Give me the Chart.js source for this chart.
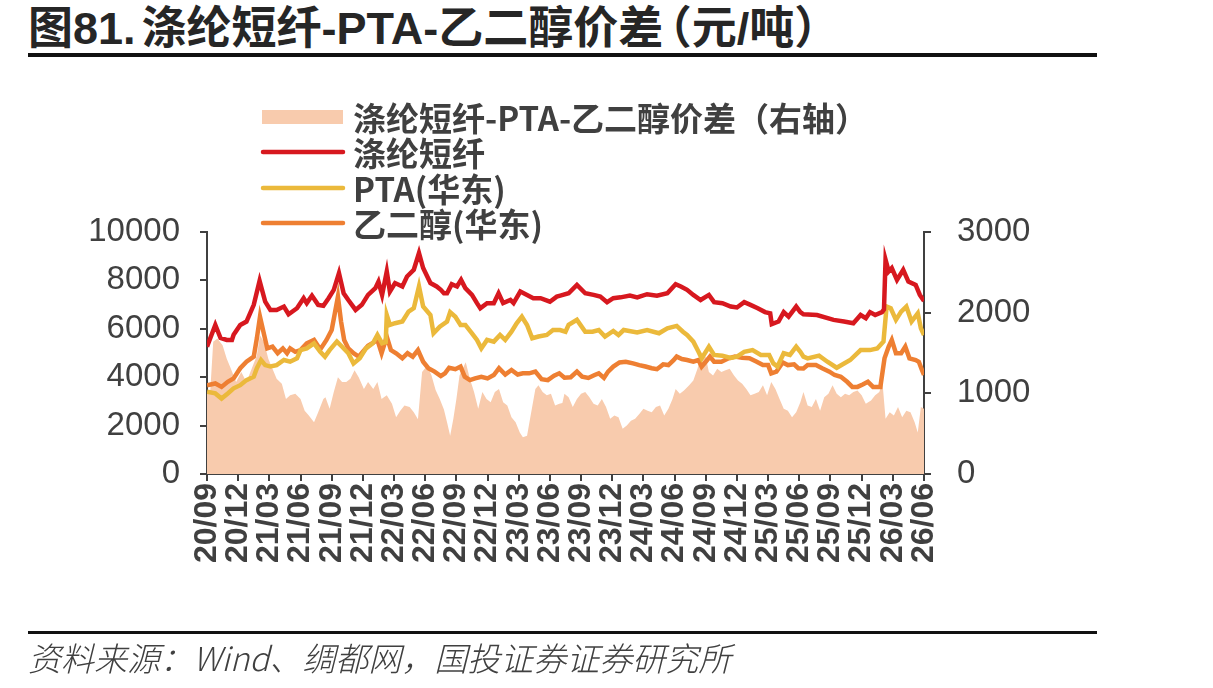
<!DOCTYPE html>
<html>
<head>
<meta charset="utf-8">
<script src="https://cdn.jsdelivr.net/npm/chart.js@4.4.1/dist/chart.umd.min.js"></script>
<style>
  body { margin: 0; background: #fff; }
  #wrap { position: relative; width: 1213px; height: 688px; overflow: hidden; }
  #chart { position: absolute; left: 0; top: 0; }
  .title {
    position: absolute; left: 28px; top: 4px;
    font-family: "Liberation Sans", "Noto Sans CJK SC", sans-serif;
    font-weight: bold; font-size: 45px; line-height: 50px; color: #262626;
    white-space: nowrap;
    font-feature-settings: "halt";
  }
  .title .gap { margin-left: 6px; }
  .rule { position: absolute; left: 28px; width: 1069px; height: 4px; background: #111; }
  .source {
    position: absolute; left: 28px; top: 637px;
    font-family: "Noto Sans CJK SC", sans-serif; font-style: italic; font-weight: 300;
    font-size: 33px; line-height: 40px; color: #404040; white-space: nowrap;
  }
</style>
</head>
<body>
<div id="wrap">
  <div class="title">图81.<span class="gap">涤纶短纤-PTA-乙二醇价差</span><span class="gap">（元/吨）</span></div>
  <div class="rule" style="top:53px"></div>
  <canvas id="chart" width="1213" height="688"></canvas>
  <div class="rule" style="top:631px; height:3px"></div>
  <div class="source">资料来源：Wind、绸都网，国投证券证券研究所</div>
</div>
<script>

// x axis labels, one every 3 months (x value = months since 2020/09)
const tickLabels = ['20/09','20/12','21/03','21/06','21/09','21/12','22/03','22/06','22/09','22/12',
  '23/03','23/06','23/09','23/12','24/03','24/06','24/09','24/12','25/03','25/06','25/09','25/12','26/03','26/06']

const seriesNames = ['涤纶短纤-PTA-乙二醇价差（右轴）', '涤纶短纤', 'PTA(华东)', '乙二醇(华东)']

// 涤纶短纤
const psfX = [0,0.8,1.3,1.9,2.4,2.56,3.2,3.8,4.5,5.06,5.6,6.1,6.7,7.4,7.85,8.66,9.3,9.6,10.1,10.7,11.2,11.7,12.2,12.7,13.15,13.6,14.3,14.9,15.5,16.2,16.5,16.85,17.3,17.6,18.1,18.8,19.25,19.9,20.4,20.8,21.5,22.1,22.5,22.8,23.1,23.55,24.06,24.45,24.86,25.5,25.98,26.3,26.95,27.6,28.06,28.5,29.2,29.5,30.15,30.8,31.4,32.1,33.0,33.66,34.0,34.8,35.6,36.4,37.2,37.85,38.5,39.1,39.8,40.7,41.4,42.35,43.3,44.3,45.1,45.6,46.2,46.8,47.5,48.3,48.8,49.6,50.4,51.0,51.7,52.3,53.0,53.7,54.2,54.35,55.0,55.5,55.97,56.7,57.1,57.4,58.7,60.3,61.3,62.2,62.9,63.4,63.8,64.3,64.96,65.15,65.3,65.6,65.9,66.4,67.0,67.5,68.2,68.6,69]
const psfY = [5260,6160,5620,5540,5540,5750,6160,6300,6990,7980,7120,6780,6780,6920,6600,6850,7265,7060,7370,6990,6950,7265,7610,8300,7470,7190,6780,6990,7400,7680,7950,7400,8370,7540,7890,7750,8160,8440,9130,8510,7890,7750,7610,7470,7470,7845,7750,8020,7680,7400,7060,6850,7060,7060,7470,7060,7190,7060,7540,7400,7265,7265,7120,7330,7370,7470,7815,7470,7400,7330,7100,7265,7300,7370,7300,7430,7370,7470,7845,7750,7610,7400,7190,7400,7100,7060,6920,6880,7100,6990,6850,6690,6640,6190,6300,6690,6500,6920,6690,6600,6570,6370,6300,6230,6570,6440,6690,6570,6690,6800,8850,8370,8510,8020,8440,7950,7815,7400,7150]

// PTA(华东)
const ptaX = [0,0.8,1.4,2.0,2.56,3.2,3.8,4.5,4.8,5.2,5.6,6.1,6.7,7.4,8.0,8.66,9.0,9.6,10.3,10.9,11.35,11.8,12.5,13.0,13.6,14.1,14.7,15.3,15.96,16.4,16.85,17.2,17.3,17.6,18.1,18.8,19.4,19.9,20.4,20.8,21.5,21.8,22.4,23.1,23.4,23.9,24.4,24.86,25.5,25.98,26.4,26.95,27.6,28.2,28.7,29.3,29.8,30.3,30.8,31.3,31.9,32.7,33.3,33.97,34.5,34.8,35.6,36.4,37.1,37.7,38.3,39.1,39.6,40.1,41.4,42.35,43.5,44.3,45.2,45.8,46.2,46.8,47.3,47.6,48.3,48.8,49.6,50.4,51.0,51.7,52.5,53.3,54.1,54.5,54.9,55.5,56.1,56.7,57.1,57.4,57.8,58.9,59.7,60.6,61.9,62.9,63.8,64.5,65.1,65.4,65.8,66.3,66.8,67.3,67.8,68.4,68.7,69]
const ptaY = [3400,3330,3120,3330,3540,3670,3880,4020,4370,4710,4500,4440,4500,4710,4640,4780,5120,5190,5400,5050,4850,5120,5470,5260,4990,4570,4780,5190,5400,5745,5400,5450,6570,6160,6230,6300,6710,6850,7750,6920,6570,5815,6090,6300,6690,6500,6160,6160,5815,5540,5190,5540,5470,5745,5540,5880,6230,6500,6160,5610,5680,5745,5950,5950,5880,6160,6370,5880,5880,5950,5680,5910,5745,5950,5850,5950,5815,6020,6120,5880,5745,5470,5050,4780,5260,4920,4890,4800,4850,5050,5120,4920,4920,4570,4440,4990,4920,5260,5050,4850,4780,4890,4640,4390,4710,5120,5120,5190,5470,6920,6850,6370,6710,6920,6300,6640,6020,5745]

// 乙二醇(华东)
const megX = [0,0.8,1.4,2.0,2.56,3.2,3.8,4.5,4.8,5.1,5.5,5.8,6.3,6.8,7.3,7.7,8.0,8.5,9.0,9.6,10.3,10.9,11.5,12.0,12.3,12.6,12.9,13.2,13.6,14.1,14.6,15.0,15.5,16.0,16.4,16.8,17.3,17.7,18.2,18.8,19.3,19.8,20.3,20.8,21.3,21.9,22.5,22.9,23.3,23.9,24.4,24.8,25.3,25.8,26.4,27.0,27.6,28.1,28.7,29.3,29.9,30.4,31.0,31.6,32.2,32.8,33.4,33.9,34.4,35.0,35.6,36.1,36.7,37.3,37.7,38.2,38.6,39.1,39.7,40.3,41.0,41.6,42.2,42.8,43.3,43.9,44.4,44.9,45.2,45.7,46.2,46.8,47.3,47.6,48.0,48.4,48.8,49.5,50.2,50.8,51.5,52.2,52.9,53.5,54.0,54.3,54.8,55.4,55.9,56.5,56.9,57.4,57.8,58.6,59.2,59.9,60.4,61.0,61.6,62.1,62.6,63.1,63.6,64.1,64.8,65.2,65.6,65.9,66.3,66.8,67.2,67.6,68.2,68.5,68.8,69]
const megY = [3670,3740,3600,3810,3950,4370,4640,4850,5610,6500,5745,5190,5260,4990,5190,4990,5190,5050,5120,5400,5540,5150,5540,5950,6640,7330,6300,5540,5190,4990,4850,5050,5300,5430,5540,4990,5680,5120,4990,4780,4990,4850,5120,4640,4370,4230,4050,4160,4390,4330,4440,4020,3880,3950,4020,3950,4090,4370,4110,4300,4110,4160,4160,4230,3920,3880,4060,4160,3980,4000,4230,4020,3970,4090,4160,3970,4230,4440,4610,4640,4570,4500,4440,4370,4330,4530,4500,4700,4850,4750,4710,4640,4710,4440,4640,4850,4640,4640,4780,4850,4800,4780,4640,4500,4500,4160,4230,4610,4500,4530,4370,4360,4500,4500,4370,4230,4090,4020,3810,3600,3600,3700,3810,3600,3600,4780,5260,5540,4990,4990,5260,4780,4710,4640,4300,4090]

// 价差（右轴）
const spreadX = [0,0.3,0.6,1.0,1.5,1.9,2.3,2.8,3.3,3.8,4.3,4.8,5.1,5.5,5.9,6.3,6.7,7.2,7.6,8.0,8.5,9.0,9.4,9.8,10.3,10.7,11.2,11.4,11.8,12.2,12.6,13.0,13.4,13.8,14.2,14.6,15.1,15.5,16.0,16.4,16.8,17.3,17.8,18.2,18.6,19.0,19.5,19.9,20.3,20.7,21.2,21.6,22.0,22.4,22.8,23.1,23.4,23.7,24.0,24.3,24.6,24.9,25.3,25.7,26.1,26.5,26.9,27.3,27.7,28.1,28.5,28.9,29.3,29.7,30.1,30.4,30.8,31.2,31.6,31.9,32.3,32.7,33.1,33.5,33.9,34.2,34.4,34.8,35.2,35.6,36.0,36.4,36.8,37.2,37.6,38.0,38.4,38.8,39.2,39.6,40.0,40.4,40.8,41.2,41.6,42.0,42.4,42.8,43.2,43.6,44.0,44.4,44.8,45.1,45.5,45.9,46.4,46.8,47.2,47.6,48.0,48.3,48.7,49.1,49.5,49.9,50.3,50.7,51.1,51.5,51.9,52.3,52.7,53.1,53.5,53.9,54.3,54.7,55.1,55.5,55.9,56.3,56.7,57.1,57.4,57.8,58.2,58.6,59.0,59.4,59.8,60.2,60.6,61.0,61.4,61.8,62.2,62.6,63.0,63.4,63.9,64.3,64.7,65.0,65.3,65.7,66.1,66.5,66.9,67.3,67.7,68.1,68.4,68.7,69]
const spreadY = [1000,1000,1640,1680,1595,1430,1305,1140,1265,1140,1305,1470,1720,1630,1430,1305,1180,1120,930,975,995,930,785,725,640,765,930,950,810,1015,1200,1140,1140,1180,1285,1200,1055,1140,1055,1140,930,975,870,705,785,850,830,765,680,1265,1345,1225,1040,930,800,640,475,680,930,1220,1305,1385,1180,1015,810,1015,930,890,1015,1055,890,850,705,640,515,455,475,765,1055,1100,1015,975,995,850,870,880,995,950,830,930,995,1015,950,870,850,930,830,685,725,705,560,600,660,685,745,810,785,765,830,850,725,810,930,1055,995,1035,1100,1160,1305,1510,1450,1265,1220,1305,1265,1285,1305,1225,1160,1120,1055,975,995,1015,1100,975,1140,1055,930,810,785,705,765,890,1015,850,830,930,785,950,995,1100,995,950,995,975,1015,1035,975,870,910,975,1015,1140,685,765,725,830,705,785,765,640,515,830,810]

function pts(xs, ys){
  return xs.map((x, i) => ({ x: x, y: ys[i] }))
}

const axisColor = '#404040'

// legend drawn as a vertical list above the plot
const sideLegend = {
  id: 'sideLegend',
  afterDraw(chart){
    const ctx = chart.ctx
    const rows = [117, 152, 188, 223]
    ctx.save()
    chart.data.datasets.forEach((ds, i) => {
      const y = rows[i]
      if(ds.fill){
        ctx.fillStyle = ds.backgroundColor
        ctx.fillRect(262, y - 7, 81, 14)
      }
      else{
        ctx.strokeStyle = ds.borderColor
        ctx.lineWidth = 4.5
        ctx.lineCap = 'round'
        ctx.beginPath()
        ctx.moveTo(263, y)
        ctx.lineTo(343, y)
        ctx.stroke()
      }
      ctx.fillStyle = axisColor
      ctx.font = 'bold 33px "Noto Sans CJK SC"'
      ctx.textBaseline = 'middle'
      ctx.fillText(ds.label, 353, y + 1)
    })
    ctx.restore()
  }
}

const ctx = document.getElementById('chart')

new Chart(ctx, {
  type: 'line',
  data: {
    datasets: [
      {
        label: seriesNames[0],
        data: pts(spreadX, spreadY),
        yAxisID: 'y1',
        fill: 'origin',
        backgroundColor: '#F8CBAD',
        borderWidth: 0,
        pointRadius: 0,
        order: 4
      },
      {
        label: seriesNames[1],
        data: pts(psfX, psfY),
        yAxisID: 'y',
        fill: false,
        borderColor: '#D7181F',
        borderWidth: 4.5,
        pointRadius: 0,
        order: 1
      },
      {
        label: seriesNames[2],
        data: pts(ptaX, ptaY),
        yAxisID: 'y',
        fill: false,
        borderColor: '#EBB93B',
        borderWidth: 4.5,
        pointRadius: 0,
        order: 2
      },
      {
        label: seriesNames[3],
        data: pts(megX, megY),
        yAxisID: 'y',
        fill: false,
        borderColor: '#EE7F32',
        borderWidth: 4.5,
        pointRadius: 0,
        order: 3
      }
    ]
  },
  options: {
    responsive: false,
    animation: false,
    layout: { padding: { top: 232, left: 0, right: 0, bottom: 0 } },
    plugins: {
      legend: { display: false },
      tooltip: { enabled: false }
    },
    scales: {
      x: {
        type: 'linear',
        min: 0,
        max: 69,
        afterFit: function(s){ s.height = 214 },
        border: { color: axisColor, width: 2 },
        grid: { drawOnChartArea: false, drawTicks: true, tickLength: 7, color: axisColor, lineWidth: 2 },
        ticks: {
          stepSize: 3,
          autoSkip: false,
          minRotation: 90,
          maxRotation: 90,
          padding: 2,
          color: axisColor,
          font: { family: 'Liberation Sans', size: 32, weight: 'bold' },
          callback: function(value){ return tickLabels[Math.round(value / 3)] }
        }
      },
      y: {
        position: 'left',
        min: 0,
        max: 10000,
        afterFit: function(s){ s.width = 207 },
        border: { color: axisColor, width: 2 },
        grid: { drawOnChartArea: false, tickLength: 7, color: axisColor, lineWidth: 2 },
        ticks: {
          stepSize: 2000,
          padding: 20,
          color: axisColor,
          font: { family: 'Liberation Sans', size: 33 },
          callback: function(value){ return String(value) }
        }
      },
      y1: {
        position: 'right',
        min: 0,
        max: 3000,
        afterFit: function(s){ s.width = 289 },
        border: { color: axisColor, width: 2 },
        grid: { drawOnChartArea: false, tickLength: 7, color: axisColor, lineWidth: 2 },
        ticks: {
          stepSize: 1000,
          padding: 26,
          color: axisColor,
          font: { family: 'Liberation Sans', size: 33 },
          callback: function(value){ return String(value) }
        }
      }
    }
  },
  plugins: [sideLegend]
})

</script>
</body>
</html>
